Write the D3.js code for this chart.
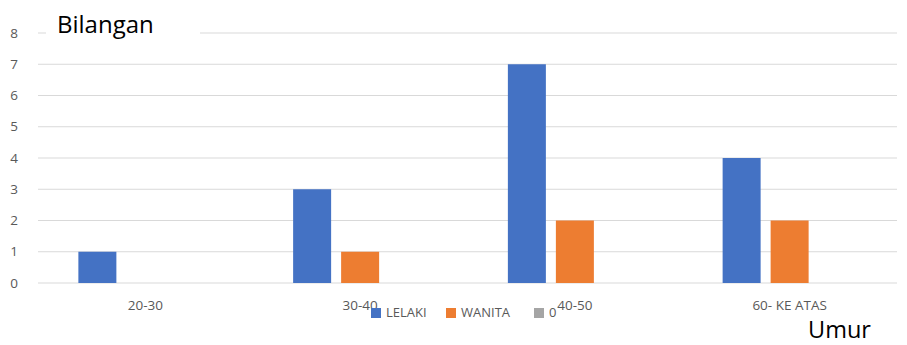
<!DOCTYPE html>
<html><head><meta charset="utf-8">
<script src="https://cdn.jsdelivr.net/npm/d3@7"></script>
<style>body{margin:0;background:#fff}svg{display:block;font-family:"Open Sans","Noto Sans",sans-serif}</style>
</head><body><svg id="c" width="907" height="345"></svg>
<script>
const categories = ["20-30", "30-40", "40-50", "60- KE ATAS"];
const seriesNames = ["LELAKI", "WANITA", "0"];
const lelaki = [1, 3, 7, 4];
const wanita = [0, 1, 2, 2];
const nol = [0, 0, 0, 0];
const yTicks = [0, 1, 2, 3, 4, 5, 6, 7, 8];
const colors = ["#4472C4", "#ED7D31", "#A5A5A5"];
const seriesValues = [lelaki, wanita, nol];

const svg = d3.select("#c");
const m = {l: 38, r: 10, t: 33, b: 62};
const W = 907, H = 345;
const x = d3.scaleBand().domain(categories).range([m.l, W - m.r]).paddingInner(0).paddingOuter(0);
const y = d3.scaleLinear().domain([0, 8]).range([H - m.b, m.t]);
const x1 = d3.scaleBand().domain(seriesNames).range([0, 134]).paddingInner(10/48).paddingOuter(0);
const off = (x.bandwidth() - 134) / 2;

// gridlines
svg.append("g").selectAll("line").data(yTicks).join("line")
  .attr("x1", m.l).attr("x2", W - m.r)
  .attr("y1", d => y(d)).attr("y2", d => y(d))
  .attr("stroke", "#d9d9d9").attr("stroke-width", 1);

// y labels
svg.append("g").selectAll("text").data(yTicks).join("text")
  .attr("x", 14).attr("y", d => y(d)).attr("dy", "0.35em")
  .attr("text-anchor", "middle").attr("font-size", 13.5).attr("fill", "#595959")
  .text(d => d);

// bars
const groups = svg.append("g").selectAll("g").data(categories).join("g")
  .attr("transform", d => `translate(${x(d) + off},0)`);
groups.selectAll("rect").data((c, i) => seriesNames.map((s, j) => ({s, v: seriesValues[j][i], j})))
  .join("rect")
  .attr("x", d => x1(d.s)).attr("width", x1.bandwidth())
  .attr("y", d => y(d.v)).attr("height", d => y(0) - y(d.v))
  .attr("fill", d => colors[d.j]);

// category labels
svg.append("g").selectAll("text").data(categories).join("text")
  .attr("x", d => x(d) + x.bandwidth() / 2).attr("y", 310)
  .attr("text-anchor", "middle").attr("font-size", 13.5).attr("fill", "#595959")
  .text(d => d);

// y axis title with white background
svg.append("rect").attr("x", 46).attr("y", 12).attr("width", 154).attr("height", 30).attr("fill", "#fff");
svg.append("text").attr("x", 57).attr("y", 33).attr("font-size", 24).attr("fill", "#000").text("Bilangan");

// legend
const legX = [371, 446, 534];
const lg = svg.append("g").selectAll("g").data(seriesNames).join("g")
  .attr("transform", (d, i) => `translate(${legX[i]},308)`);
lg.append("rect").attr("width", 10).attr("height", 10).attr("fill", (d, i) => colors[i]);
lg.append("text").attr("x", 15).attr("y", 4).attr("dy", "0.35em").attr("font-size", 13).attr("fill", "#595959").text(d => d);

// x axis title
svg.append("text").attr("x", 808).attr("y", 338).attr("font-size", 23.5).attr("fill", "#000").text("Umur");
</script></body></html>
